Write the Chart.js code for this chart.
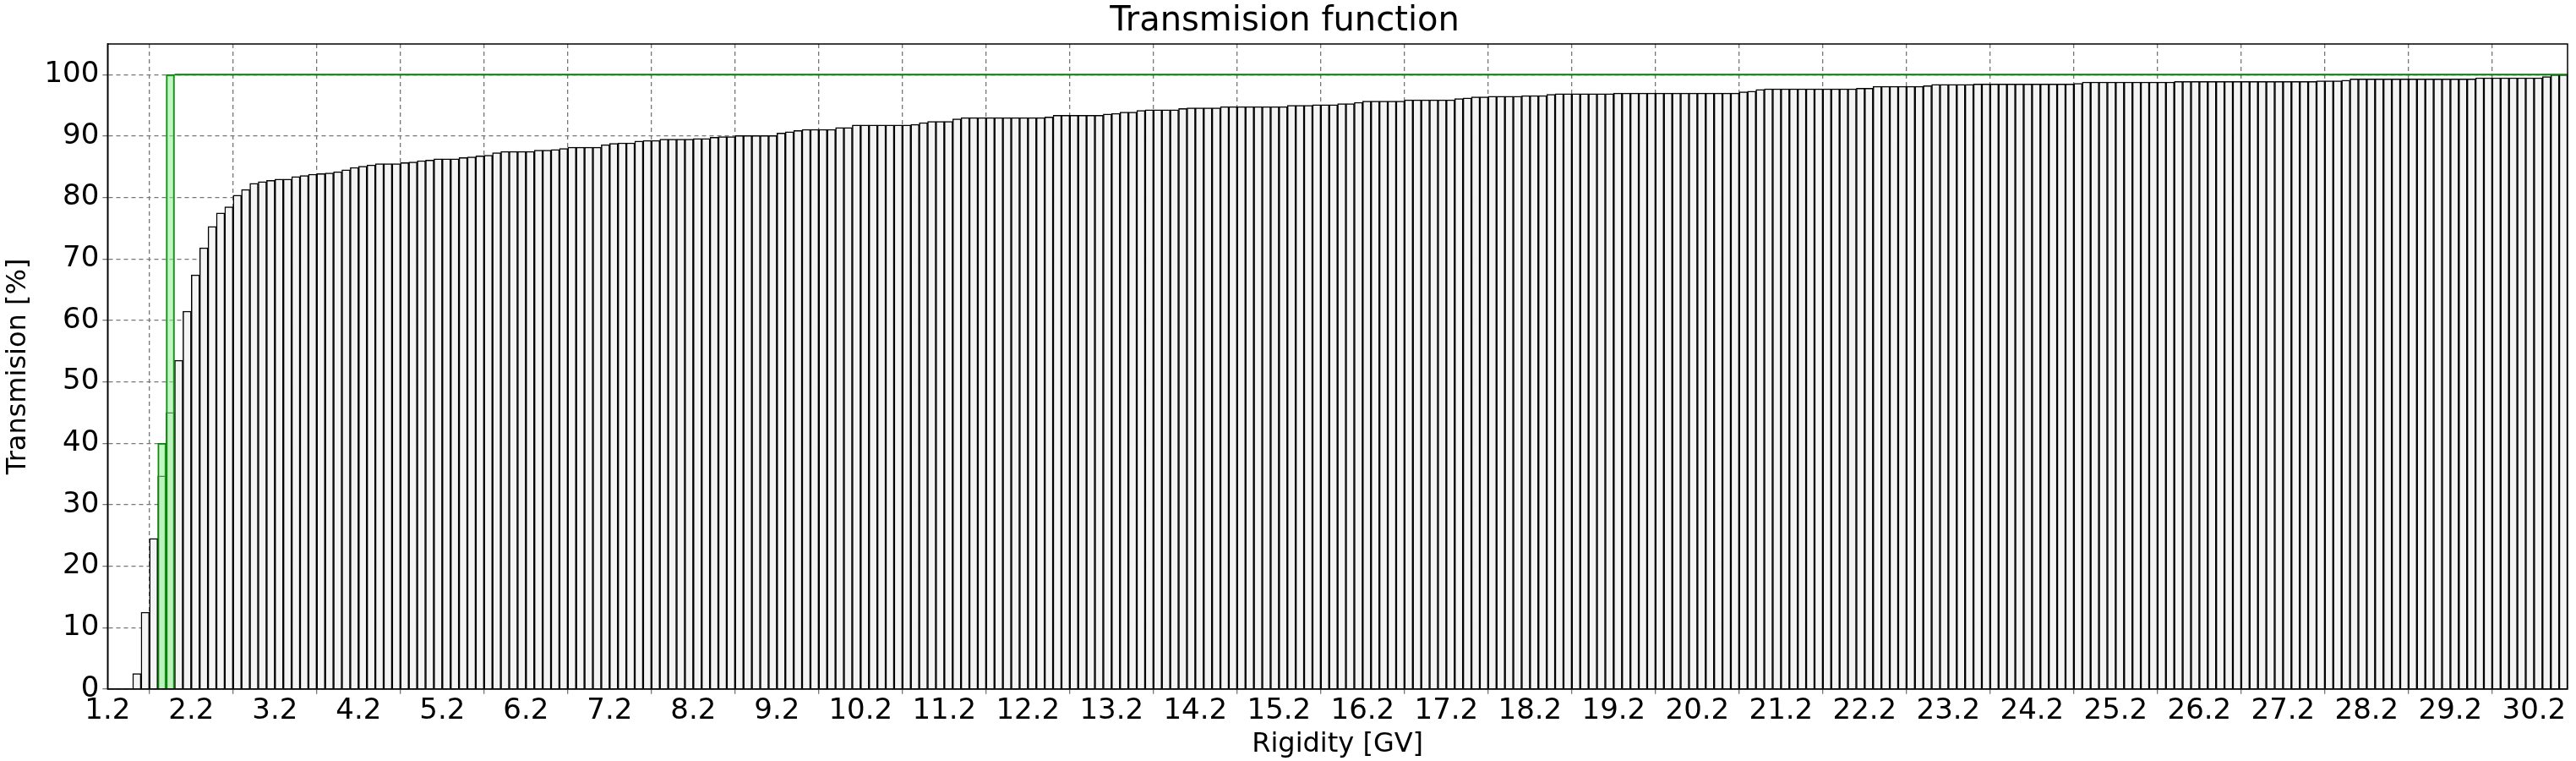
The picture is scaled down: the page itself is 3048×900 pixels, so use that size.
<!DOCTYPE html>
<html>
<head>
<meta charset="utf-8">
<script src="https://cdn.jsdelivr.net/npm/chart.js@4/dist/chart.umd.min.js"></script>
<style>
  html, body { margin: 0; padding: 0; background: #fff; }
  #wrap { width: 3048px; height: 900px; }
</style>
</head>
<body>
<div id="wrap"><canvas id="c" width="3048" height="900"></canvas></div>
<script>
// bin left edges start at 1.2 GV, bin width 0.1 GV
const binStart = 1.2;
const binWidth = 0.1;
const transmission = [
  0, 0, 0, 2.5, 12.5, 24.5, 34.7, 45, 53.5, 61.5,
  67.4, 71.8, 75.3, 77.5, 78.5, 80.4, 81.3, 82.3, 82.6, 82.8,
  83.0, 83.0, 83.4, 83.6, 83.8, 83.9, 84.0, 84.2, 84.5, 84.9,
  85.1, 85.3, 85.5, 85.5, 85.5, 85.7, 85.8, 86.0, 86.1, 86.3,
  86.3, 86.3, 86.5, 86.6, 86.8, 86.9, 87.3, 87.5, 87.5, 87.5,
  87.5, 87.7, 87.7, 87.8, 88.0, 88.2, 88.2, 88.2, 88.2, 88.6,
  88.8, 88.9, 88.9, 89.2, 89.3, 89.3, 89.5, 89.5, 89.5, 89.5,
  89.6, 89.6, 89.8, 89.9, 89.9, 90.1, 90.1, 90.1, 90.1, 90.1,
  90.5, 90.7, 90.9, 91.1, 91.1, 91.1, 91.1, 91.4, 91.4, 91.8,
  91.8, 91.8, 91.8, 91.8, 91.8, 91.8, 91.9, 92.2, 92.4, 92.4,
  92.4, 92.8, 93.0, 93.0, 93.0, 93.0, 93.0, 93.0, 93.0, 93.0,
  93.0, 93.0, 93.1, 93.4, 93.4, 93.4, 93.4, 93.4, 93.4, 93.6,
  93.7, 93.9, 93.9, 94.2, 94.3, 94.3, 94.3, 94.3, 94.5, 94.6,
  94.6, 94.6, 94.6, 94.8, 94.8, 94.8, 94.8, 94.8, 94.8, 94.8,
  94.8, 95.0, 95.0, 95.0, 95.1, 95.1, 95.1, 95.3, 95.3, 95.5,
  95.7, 95.7, 95.7, 95.7, 95.7, 95.9, 95.9, 95.9, 95.9, 95.9,
  95.9, 96.1, 96.2, 96.4, 96.4, 96.5, 96.5, 96.5, 96.5, 96.6,
  96.6, 96.6, 96.8, 96.9, 96.9, 96.9, 96.9, 96.9, 96.9, 96.9,
  97.0, 97.0, 97.0, 97.0, 97.0, 97.0, 97.0, 97.0, 97.0, 97.0,
  97.0, 97.0, 97.0, 97.0, 97.0, 97.2, 97.3, 97.6, 97.7, 97.7,
  97.7, 97.7, 97.7, 97.7, 97.7, 97.7, 97.7, 97.7, 97.7, 97.8,
  97.8, 98.1, 98.1, 98.1, 98.1, 98.1, 98.1, 98.2, 98.4, 98.4,
  98.4, 98.4, 98.4, 98.5, 98.5, 98.5, 98.5, 98.5, 98.5, 98.5,
  98.5, 98.5, 98.5, 98.5, 98.5, 98.6, 98.8, 98.8, 98.8, 98.8,
  98.8, 98.8, 98.8, 98.8, 98.8, 98.8, 98.8, 98.9, 98.9, 98.9,
  98.9, 98.9, 98.9, 98.9, 98.9, 98.9, 98.9, 98.9, 98.9, 98.9,
  98.9, 98.9, 98.9, 98.9, 99.0, 99.0, 99.0, 99.1, 99.3, 99.3,
  99.3, 99.3, 99.3, 99.3, 99.3, 99.3, 99.3, 99.3, 99.3, 99.3,
  99.3, 99.3, 99.3, 99.5, 99.5, 99.5, 99.5, 99.5, 99.5, 99.5,
  99.5, 99.7, 100, 100
];
// green histogram: bins 1.8 and 1.9, then flat at 100 to the end
const greenBins = [1.8, 1.9];
const greenValues = [40, 100];
const greenLevel = 100;
const xTicks = [1.2, 2.2, 3.2, 4.2, 5.2, 6.2, 7.2, 8.2, 9.2, 10.2, 11.2, 12.2, 13.2, 14.2, 15.2,
  16.2, 17.2, 18.2, 19.2, 20.2, 21.2, 22.2, 23.2, 24.2, 25.2, 26.2, 27.2, 28.2, 29.2, 30.2];
const yTicks = [0, 10, 20, 30, 40, 50, 60, 70, 80, 90, 100];
const xMin = 1.2, xMax = 30.6, yMax = 105;

const mainData = transmission.map((v, i) => ({x: binStart + (i + 0.5) * binWidth, y: v}));
const greenData = greenBins.map((b, i) => ({x: b + binWidth / 2, y: greenValues[i]}));
const lastGreen = greenBins[greenBins.length - 1] + binWidth;

const font = 'DejaVu Sans';
new Chart(document.getElementById('c'), {
  data: {
    datasets: [
      {
        type: 'bar', data: mainData, order: 2,
        backgroundColor: '#f4f4f4', borderColor: '#000', borderWidth: 1.5,
        barPercentage: 1, categoryPercentage: 1, grouped: false
      },
      {
        type: 'bar', data: greenData, order: 1,
        backgroundColor: 'rgba(144,238,144,0.55)', borderColor: 'green', borderWidth: 1.5,
        barPercentage: 1, categoryPercentage: 1, grouped: false
      },
      {
        type: 'line', data: [{x: lastGreen, y: greenLevel}, {x: xMax, y: greenLevel}], order: 0,
        borderColor: 'green', borderWidth: 2, pointRadius: 0, fill: false
      }
    ]
  },
  options: {
    responsive: false, animation: false, devicePixelRatio: 1,
    layout: {padding: {left: 2, right: 10, top: 0, bottom: 0}},
    plugins: {
      legend: {display: false}, tooltip: {enabled: false},
      title: {display: true, text: 'Transmision function', color: '#000',
        font: {family: font, size: 40, weight: 'normal'}, padding: {top: 2, bottom: 2}}
    },
    scales: {
      x: {
        type: 'linear', min: xMin, max: xMax, offset: false,
        afterBuildTicks: s => { s.ticks = xTicks.map(v => ({value: v})); },
        ticks: {color: '#000', font: {family: font, size: 34}, maxRotation: 0, autoSkip: false, padding: 0,
          callback: v => v.toFixed(1)},
        grid: {color: '#777', lineWidth: 1.3, tickLength: 6, drawTicks: true},
        border: {display: true, color: '#000', width: 1.5, dash: [5, 4]},
        title: {display: true, text: 'Rigidity [GV]', color: '#000', font: {family: font, size: 32}, padding: {top: 0, bottom: 0}}
      },
      y: {
        min: 0, max: yMax,
        afterBuildTicks: s => { s.ticks = yTicks.map(v => ({value: v})); },
        ticks: {color: '#000', font: {family: font, size: 34}, padding: 4},
        grid: {color: '#777', lineWidth: 1.3, tickLength: 6},
        border: {display: true, color: '#000', width: 1.5, dash: [5, 4]},
        title: {display: true, text: 'Transmision [%]', color: '#000', font: {family: font, size: 32}, padding: {top: 0, bottom: 8}}
      }
    }
  },
  plugins: [{
    id: 'frame',
    afterDraw(chart) {
      const {ctx, chartArea: a} = chart;
      ctx.save();
      ctx.strokeStyle = '#000'; ctx.lineWidth = 1.5; ctx.setLineDash([]);
      ctx.strokeRect(a.left, a.top, a.right - a.left, a.bottom - a.top);
      ctx.restore();
    }
  }]
});
</script>
</body>
</html>
